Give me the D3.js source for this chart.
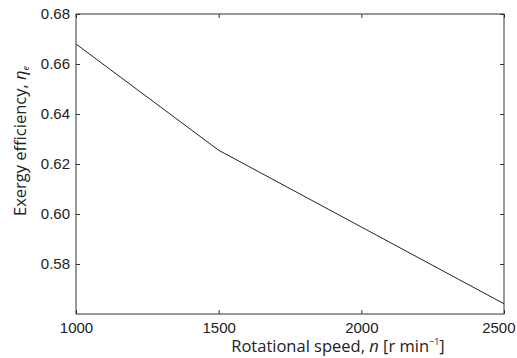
<!DOCTYPE html>
<html>
<head>
<meta charset="utf-8">
<script src="https://cdn.jsdelivr.net/npm/d3@7"></script>
<style>
  body { margin: 0; background: #fff; }
  svg { display: block; font-family: "Open Sans", sans-serif; }
</style>
</head>
<body>
<div id="chart"></div>
<script>
// rotational speed [r/min] and exergy efficiency
var speeds = [1000, 1500, 2000, 2500];
var efficiency = [0.668, 0.6255, 0.5948, 0.5641];
var xTicks = [1000, 1500, 2000, 2500];
var yTicks = [0.58, 0.60, 0.62, 0.64, 0.66, 0.68];

var width = 517, height = 358;
var margin = {top: 14, right: 13, bottom: 44, left: 76};

var svg = d3.select("#chart").append("svg")
    .attr("width", width)
    .attr("height", height);

var x = d3.scaleLinear().domain([1000, 2500]).range([margin.left, width - margin.right]);
var y = d3.scaleLinear().domain([0.56, 0.68]).range([height - margin.bottom, margin.top]);

// ticks pointing inward on all four sides
function styleAxis(g) {
    g.select(".domain").remove();
    g.selectAll(".tick line").attr("stroke", "#333");
    g.selectAll(".tick text").attr("fill", "#222").style("font-size", "15px");
}

var xAxis = svg.append("g")
    .attr("transform", "translate(0," + y.range()[0] + ")")
    .call(d3.axisBottom(x).tickValues(xTicks).tickSize(-4).tickPadding(8).tickFormat(d3.format("d")))
    .call(styleAxis);

// last label sits inside the window, like the original
xAxis.selectAll(".tick text")
    .filter(function (d) { return d === 2500; })
    .attr("text-anchor", "end")
    .attr("x", 11);

svg.append("g")
    .attr("transform", "translate(0," + y.range()[1] + ")")
    .call(d3.axisTop(x).tickValues(xTicks).tickSize(-4).tickFormat(""))
    .call(styleAxis);

svg.append("g")
    .attr("transform", "translate(" + x.range()[0] + ",0)")
    .call(d3.axisLeft(y).tickValues(yTicks).tickSize(-4).tickPadding(6).tickFormat(d3.format(".2f")))
    .call(styleAxis);

svg.append("g")
    .attr("transform", "translate(" + x.range()[1] + ",0)")
    .call(d3.axisRight(y).tickValues(yTicks).tickSize(-4).tickFormat(""))
    .call(styleAxis);

// frame
svg.append("rect")
    .attr("x", x.range()[0])
    .attr("y", y.range()[1])
    .attr("width", x.range()[1] - x.range()[0])
    .attr("height", y.range()[0] - y.range()[1])
    .attr("fill", "none")
    .attr("stroke", "#333")
    .attr("stroke-width", 1);

// the curve
var line = d3.line()
    .x(function (d, i) { return x(speeds[i]); })
    .y(function (d) { return y(d); });

svg.append("path")
    .datum(efficiency)
    .attr("d", line)
    .attr("fill", "none")
    .attr("stroke", "#222")
    .attr("stroke-width", 1);

// axis titles
var xt = svg.append("text")
    .attr("x", 338)
    .attr("y", 352)
    .attr("text-anchor", "middle")
    .attr("fill", "#222")
    .style("font-size", "16.5px");
xt.append("tspan").text("Rotational speed, ");
xt.append("tspan").style("font-style", "italic").text("n");
xt.append("tspan").text(" [r min");
xt.append("tspan").attr("dy", -7).style("font-size", "9px").text("\u22121");
xt.append("tspan").attr("dy", 7).text("]");

var yt = svg.append("text")
    .attr("transform", "translate(26,141) rotate(-90)")
    .attr("text-anchor", "middle")
    .attr("fill", "#222")
    .style("font-size", "16.5px");
yt.append("tspan").text("Exergy efficiency, ");
yt.append("tspan").style("font-style", "italic").text("\u03b7");
yt.append("tspan").attr("dy", 3).style("font-size", "9px").style("font-style", "italic").text("e");
</script>
</body>
</html>
